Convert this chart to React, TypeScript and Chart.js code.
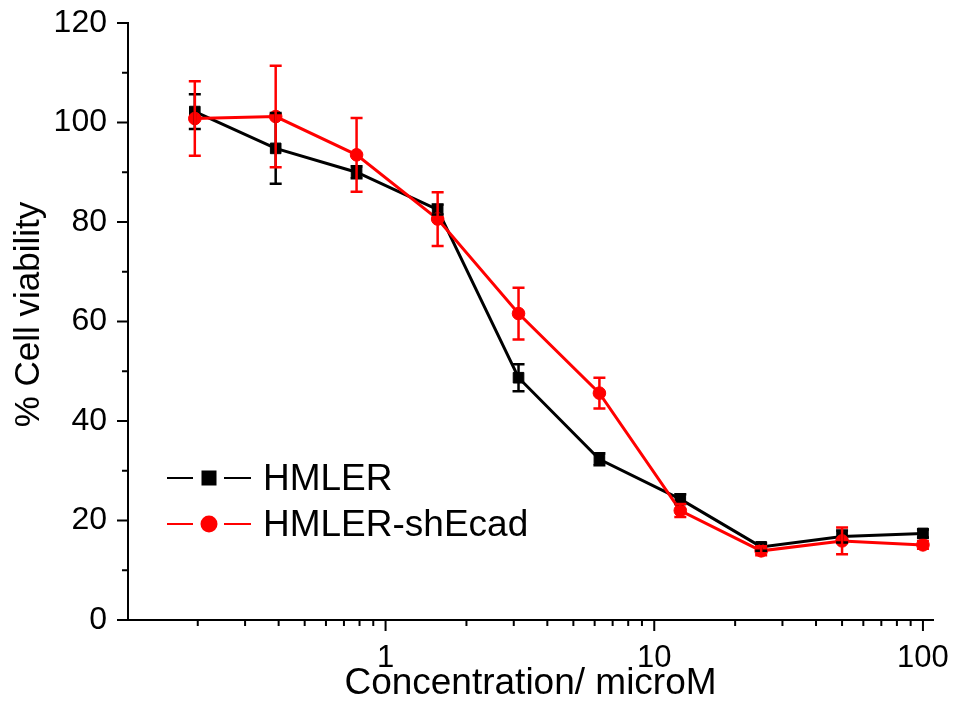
import React, { useEffect, useRef } from "react";
import { Chart, registerables } from "chart.js";

Chart.register(...registerables);

// ---- Data ----
const concentrations = [0.195, 0.39, 0.78, 1.5625, 3.125, 6.25, 12.5, 25, 50, 100];
const hmlerViability = [102.2, 94.8, 90.0, 82.5, 48.7, 32.3, 24.3, 14.7, 16.8, 17.4];
const hmlerError = [3.5, 7.1, 1.2, 1.0, 2.7, 1.2, 1.0, 0.8, 1.2, 0.8];
const shEcadViability = [100.8, 101.2, 93.5, 80.6, 61.6, 45.6, 22.0, 13.9, 15.9, 15.1];
const shEcadError = [7.5, 10.2, 7.4, 5.4, 5.2, 3.1, 1.3, 0.9, 2.7, 0.8];

const seriesNames = ["HMLER", "HMLER-shEcad"];
const seriesColors = ["#000000", "#ff0000"];

const xMajorTicks = [1, 10, 100];
const xMinorTicks = [0.2, 0.3, 0.4, 0.5, 0.6, 0.7, 0.8, 0.9, 2, 3, 4, 5, 6, 7, 8, 9, 20, 30, 40, 50, 60, 70, 80, 90];
const yMajorTicks = [0, 20, 40, 60, 80, 100, 120];
const yMinorTicks = [10, 30, 50, 70, 90, 110];

const xTitle = "Concentration/ microM";
const yTitle = "% Cell viability";

const FONT = "'Liberation Sans', Arial, sans-serif";

const errorBarPlugin = {
  id: "errorBars",
  afterDatasetsDraw(chart: any) {
    const { ctx, scales } = chart;
    const x = scales.x;
    const y = scales.y;
    const sets = [
      { vals: hmlerViability, errs: hmlerError, color: seriesColors[0] },
      { vals: shEcadViability, errs: shEcadError, color: seriesColors[1] },
    ];
    ctx.save();
    ctx.lineWidth = 2.5;
    for (const s of sets) {
      ctx.strokeStyle = s.color;
      concentrations.forEach((c, i) => {
        const px = x.getPixelForValue(c);
        const top = y.getPixelForValue(s.vals[i] + s.errs[i]);
        const bot = y.getPixelForValue(s.vals[i] - s.errs[i]);
        const cap = 6;
        ctx.beginPath();
        ctx.moveTo(px, top);
        ctx.lineTo(px, bot);
        ctx.moveTo(px - cap, top);
        ctx.lineTo(px + cap, top);
        ctx.moveTo(px - cap, bot);
        ctx.lineTo(px + cap, bot);
        ctx.stroke();
      });
    }
    ctx.restore();
  },
};

const ticksPlugin = {
  id: "customTicks",
  afterDraw(chart: any) {
    const { ctx, scales, chartArea } = chart;
    const x = scales.x;
    const y = scales.y;
    ctx.save();
    ctx.strokeStyle = "#000";
    ctx.lineWidth = 2;
    ctx.beginPath();
    for (const v of xMajorTicks) {
      const px = x.getPixelForValue(v);
      ctx.moveTo(px, chartArea.bottom);
      ctx.lineTo(px, chartArea.bottom + 11);
    }
    for (const v of xMinorTicks) {
      const px = x.getPixelForValue(v);
      ctx.moveTo(px, chartArea.bottom);
      ctx.lineTo(px, chartArea.bottom + 6);
    }
    for (const v of yMajorTicks) {
      const py = y.getPixelForValue(v);
      ctx.moveTo(chartArea.left, py);
      ctx.lineTo(chartArea.left - 11, py);
    }
    for (const v of yMinorTicks) {
      const py = y.getPixelForValue(v);
      ctx.moveTo(chartArea.left, py);
      ctx.lineTo(chartArea.left - 6, py);
    }
    ctx.stroke();

    // y-axis title
    ctx.translate(29, (chartArea.top + chartArea.bottom) / 2 - 7);
    ctx.rotate(-Math.PI / 2);
    ctx.fillStyle = "#000";
    ctx.font = `35px ${FONT}`;
    ctx.textAlign = "center";
    ctx.textBaseline = "middle";
    ctx.fillText(yTitle, 0, 0);
    ctx.restore();
  },
};

const legendPlugin = {
  id: "customLegend",
  afterDraw(chart: any) {
    const { ctx, chartArea } = chart;
    const x0 = chartArea.left + 39;
    const rows = [chartArea.top + 455, chartArea.top + 501];
    ctx.save();
    rows.forEach((cy, i) => {
      const color = seriesColors[i];
      ctx.strokeStyle = color;
      ctx.fillStyle = color;
      ctx.lineWidth = 2.2;
      ctx.beginPath();
      ctx.moveTo(x0, cy);
      ctx.lineTo(x0 + 26, cy);
      ctx.moveTo(x0 + 57, cy);
      ctx.lineTo(x0 + 84, cy);
      ctx.stroke();
      const mx = x0 + 42;
      if (i === 0) {
        ctx.fillRect(mx - 7.5, cy - 7.5, 15, 15);
      } else {
        ctx.beginPath();
        ctx.arc(mx, cy, 8.5, 0, Math.PI * 2);
        ctx.fill();
      }
      ctx.fillStyle = "#000";
      ctx.font = `37px ${FONT}`;
      ctx.textBaseline = "middle";
      ctx.textAlign = "left";
      ctx.fillText(seriesNames[i], x0 + 96, cy + 2);
    });
    ctx.restore();
  },
};

export default function App() {
  const canvasRef = useRef<HTMLCanvasElement | null>(null);

  useEffect(() => {
    if (!canvasRef.current) return;
    const chart = new Chart(canvasRef.current, {
      type: "line",
      data: {
        datasets: [
          {
            label: seriesNames[0],
            data: concentrations.map((c, i) => ({ x: c, y: hmlerViability[i] })),
            borderColor: seriesColors[0],
            backgroundColor: seriesColors[0],
            borderWidth: 3,
            pointStyle: "rect",
            pointRadius: 7.5,
            pointBorderWidth: 1,
            pointBorderColor: seriesColors[0],
            pointBackgroundColor: seriesColors[0],
            tension: 0,
            order: 2,
          },
          {
            label: seriesNames[1],
            data: concentrations.map((c, i) => ({ x: c, y: shEcadViability[i] })),
            borderColor: seriesColors[1],
            backgroundColor: seriesColors[1],
            borderWidth: 3,
            pointStyle: "circle",
            pointRadius: 6.3,
            pointBorderWidth: 1,
            pointBorderColor: seriesColors[1],
            pointBackgroundColor: seriesColors[1],
            tension: 0,
            order: 1,
          },
        ],
      },
      options: {
        animation: false,
        responsive: true,
        maintainAspectRatio: false,
        layout: { padding: { left: 0, top: 23, right: 24, bottom: 0 } },
        plugins: {
          legend: { display: false },
          tooltip: { enabled: false },
        },
        scales: {
          x: {
            type: "logarithmic",
            min: 0.11,
            max: 109,
            grid: { display: false, drawTicks: true, tickLength: 20 },
            border: { display: true, color: "#000", width: 2 },
            afterBuildTicks: (scale: any) => {
              scale.ticks = xMajorTicks.map((v) => ({ value: v, major: true }));
            },
            afterFit: (scale: any) => {
              scale.height = 95;
            },
            ticks: {
              autoSkip: false,
              maxRotation: 0,
              minRotation: 0,
              padding: 0,
              color: "#000",
              font: { family: FONT, size: 31 },
              callback: (value: any) => String(value),
            },
            title: {
              display: true,
              text: xTitle,
              color: "#000",
              font: { family: FONT, size: 37 },
              padding: { top: 0, bottom: 9 },
            },
          },
          y: {
            type: "linear",
            min: 0,
            max: 120,
            grid: { display: false, drawTicks: true, tickLength: 21 },
            border: { display: true, color: "#000", width: 2 },
            afterBuildTicks: (scale: any) => {
              scale.ticks = yMajorTicks.map((v) => ({ value: v }));
            },
            afterFit: (scale: any) => {
              scale.width = 128;
            },
            ticks: {
              padding: 0,
              color: "#000",
              font: { family: FONT, size: 32 },
            },
            title: { display: false },
          },
        },
      },
      plugins: [errorBarPlugin, ticksPlugin, legendPlugin],
    });
    return () => chart.destroy();
  }, []);

  return (
    <div style={{ position: "fixed", left: 0, top: 0, width: 957, height: 715, background: "#fff" }}>
      <canvas ref={canvasRef} />
    </div>
  );
}
